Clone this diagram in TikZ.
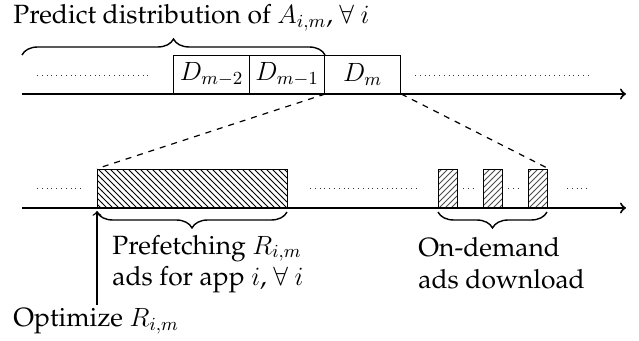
\RequirePackage{fix-cm}
\documentclass[tikz,border=0pt]{standalone}
\usepackage[T1]{fontenc}
\usepackage{palatino}
\usetikzlibrary{patterns,decorations.pathreplacing}
\begin{document}
\begin{tikzpicture}[x=0.5pt,y=-0.5pt,
  font=\fontsize{13.2}{15.8}\selectfont,
  axis/.style={line width=1pt,->},
  dbox/.style={draw,line width=0.6pt,inner sep=0pt,minimum height=19pt,anchor=south west},
  bighatch/.style={draw,line width=0.7pt,inner sep=0pt,minimum height=19pt,minimum width=95pt,anchor=south west,pattern=north west lines},
  smallhatch/.style={draw,line width=0.7pt,inner sep=0pt,minimum height=19pt,minimum width=9.5pt,anchor=south west,pattern=north east lines,pattern color=black!70},
  dots/.style={dotted,line width=0.4pt,black!80},
  bracedeco/.style={decorate,decoration={brace,amplitude=8pt},line width=0.7pt},
  lbl/.style={align=left,inner sep=0pt}
]
\useasboundingbox (0,0) rectangle (639,341);
% title
\node[anchor=base west,inner sep=0pt] (title) at (13,24) {Predict distribution of $A_{i,m}$, $\forall\ i$};
% top axis
\coordinate (t0) at (22,94);
\coordinate (t1) at (626,94);
\draw[axis] (t0) -- (t1);
\node[dbox,minimum width=38pt] (d2) at (173,94) {$D_{m-2}$};
\node[dbox,minimum width=37.5pt] (d1) at (249,94) {$D_{m-1}$};
\node[dbox,minimum width=38pt] (dm) at (324,94) {$D_m$};
\draw[dots] (37,75) -- (152,75);
\draw[dots] (415,75) -- (588,75);
\coordinate (b0) at (22,55);
\coordinate (b1) at (325,55);
\draw[bracedeco] (b0) -- (b1);
% bottom axis
\coordinate (u0) at (22,208);
\coordinate (u1) at (626,208);
\draw[axis] (u0) -- (u1);
\node[bighatch] (pf) at (97,208) {};
\node[smallhatch] (s1) at (438,208) {};
\node[smallhatch] (s2) at (483,208) {};
\node[smallhatch] (s3) at (528,208) {};
\draw[dots] (37,188) -- (84,188);
\draw[dots] (310,188) -- (418,188);
\draw[dots] (463,188) -- (473,188);
\draw[dots] (508,188) -- (518,188);
\draw[dots] (567,188) -- (588,188);
% zoom dashed lines
\draw[dashed,line width=0.6pt] (d1.south east) -- (pf.north west);
\draw[dashed,line width=0.6pt] (dm.south east) -- (s3.north east);
% bottom braces
\coordinate (pb0) at (287,212);
\coordinate (pb1) at (97,212);
\draw[bracedeco] (pb0) -- (pb1);
\coordinate (sb0) at (547,212);
\coordinate (sb1) at (438,212);
\draw[bracedeco] (sb0) -- (sb1);
% labels
\node[lbl,anchor=west] (pl) at (112,264) {Prefetching $R_{i,m}$\\ads for app $i$, $\forall\ i$};
\node[lbl,anchor=west] (ol) at (418,263) {On-demand\\ads download};
\node[lbl,anchor=west] (opt) at (13,321) {Optimize $R_{i,m}$};
\coordinate (arrtip) at (97,211);
\draw[->,line width=0.7pt] (arrtip |- 0,305) -- (arrtip);
\end{tikzpicture}
\end{document}
